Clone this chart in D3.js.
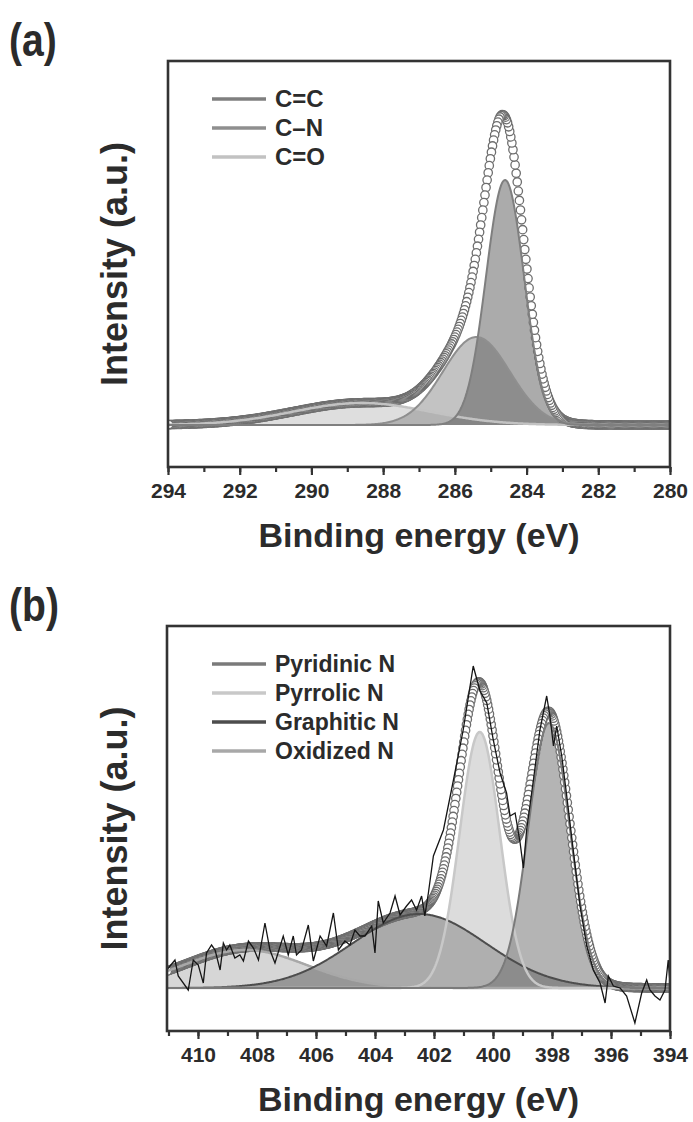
<!DOCTYPE html>
<html>
<head>
<meta charset="utf-8">
<script src="https://cdn.jsdelivr.net/npm/d3@7"></script>
<style>
body { margin: 0; background: #fff; }
svg text { font-family: "Liberation Sans", Arial, sans-serif; font-weight: bold; fill: #2b2b2b; }
</style>
</head>
<body>
<svg id="chart" width="693" height="1122"></svg>
<script>
// ---- (a) C 1s: fitted components (centre eV, FWHM eV, height a.u.)
var c1sNames  = ["C=C", "C\u2013N", "C=O"];
var c1sCenter = [284.6, 285.4, 288.6];
var c1sFwhm   = [1.25, 2.2, 4.5];
var c1sHeight = [245, 88, 22];
var c1sTicks  = [294, 292, 290, 288, 286, 284, 282, 280];

// ---- (b) N 1s: fitted components
var n1sNames  = ["Pyridinic N", "Pyrrolic N", "Graphitic N", "Oxidized N"];
var n1sCenter = [398.1, 400.45, 402.5, 408.4];
var n1sFwhm   = [1.65, 1.6, 5.3, 4.9];
var n1sHeight = [265, 256, 74, 38];
var n1sTicks  = [410, 408, 406, 404, 402, 400, 398, 396, 394];

// raw (noisy) N 1s trace, read point by point
var n1sRawEnergy = [411.06, 410.78, 410.67, 410.33, 410.16, 409.99, 409.82, 409.71, 409.54, 409.42,
  409.25, 409.14, 409.03, 408.92, 408.75, 408.58, 408.46, 408.29, 408.12, 407.95,
  407.73, 407.56, 407.39, 407.11, 406.94, 406.77, 406.66, 406.49, 406.26, 406.09,
  405.86, 405.64, 405.41, 405.24, 405.02, 404.85, 404.68, 404.51, 404.34, 404.11,
  404.0, 403.89, 403.72, 403.49, 403.32, 403.15, 402.93, 402.76, 402.59, 402.42,
  402.31, 402.19, 402.02, 401.68, 401.34, 401.01, 400.67, 400.44, 400.21, 399.99,
  399.76, 399.54, 399.42, 399.25, 399.08, 398.97, 398.86, 398.63, 398.41, 398.18,
  398.07, 397.95, 397.84, 397.67, 397.5, 397.28, 397.05, 396.82, 396.6, 396.37,
  396.2, 396.09, 395.92, 395.69, 395.47, 395.19, 394.96, 394.79, 394.68, 394.51,
  394.34, 394.17, 394.06, 394.0];
var n1sRawCounts = [18, 28, 12, -2, 28, 23, 5, 35, 43, 38,
  18, 45, 38, 43, 30, 33, 27, 47, 40, 28,
  65, 38, 25, 52, 33, 52, 33, 38, 63, 27,
  52, 42, 75, 38, 47, 43, 58, 52, 52, 62,
  35, 87, 65, 75, 92, 73, 82, 88, 78, 92,
  72, 95, 132, 158, 208, 258, 322, 297, 285, 248,
  215, 195, 172, 175, 145, 120, 158, 208, 258, 292,
  272, 242, 262, 232, 192, 138, 82, 42, 18, 5,
  -15, 12, 2, 0, -8, -35, -5, 8, -2, -8,
  -12, -2, 28, 5];

var svg = d3.select("#chart");
var ln2 = Math.log(2);
function peak(e, c, f, h) { return h * Math.exp(-4 * ln2 * (e - c) * (e - c) / (f * f)); }

function drawPanel(p) {
  var g = svg.append("g");
  var x = d3.scaleLinear().domain(p.xDomain).range([p.left, p.right]);
  var y = d3.scaleLinear().domain(p.yDomain).range([p.bottom, p.top]);

  var clipId = "clip" + p.tag;
  svg.append("clipPath").attr("id", clipId).append("rect")
    .attr("x", p.left).attr("y", p.top).attr("width", p.right - p.left).attr("height", p.bottom - p.top);
  var plot = g.append("g").attr("clip-path", "url(#" + clipId + ")");

  var lo = Math.min(p.xDomain[0], p.xDomain[1]), hi = Math.max(p.xDomain[0], p.xDomain[1]);
  var grid = d3.range(lo, hi + 0.0001, 0.03);
  var comps = p.center.map(function(c, i) {
    return grid.map(function(e) { return [e, peak(e, c, p.fwhm[i], p.height[i])]; });
  });
  var env = grid.map(function(e, k) { return [e, d3.sum(comps, function(cp) { return cp[k][1]; })]; });

  var area = d3.area().x(function(d) { return x(d[0]); }).y0(y(0)).y1(function(d) { return y(d[1]); });
  var line = d3.line().x(function(d) { return x(d[0]); }).y(function(d) { return y(d[1]); });

  p.order.forEach(function(i) {
    plot.append("path").datum(comps[i]).attr("d", area)
      .attr("fill", p.fill[i]).attr("fill-opacity", p.fillOpacity[i]);
  });

  plot.append("g").selectAll("circle").data(env).enter().append("circle")
    .attr("cx", function(d) { return x(d[0]); })
    .attr("cy", function(d) { return y(d[1]); })
    .attr("r", 4.2)
    .attr("fill", "#fff").attr("stroke", "#6e6e6e").attr("stroke-width", 1.3);

  p.order.forEach(function(i) {
    plot.append("path").datum(comps[i]).attr("d", line)
      .attr("fill", "none").attr("stroke", p.stroke[i]).attr("stroke-width", p.strokeWidth[i]);
  });

  if (p.rawE) {
    var raw = p.rawE.map(function(e, i) { return [e, p.rawI[i]]; });
    plot.append("path").datum(raw).attr("d", line)
      .attr("fill", "none").attr("stroke", "#151515").attr("stroke-width", 1.3);
  }

  // legend
  p.names.forEach(function(n, i) {
    var ly = p.top + 38 + i * 29;
    g.append("line").attr("x1", 212).attr("x2", 266).attr("y1", ly).attr("y2", ly)
      .attr("stroke", p.stroke[i]).attr("stroke-width", 3.5);
    g.append("text").attr("x", 275).attr("y", ly + 8).attr("font-size", p.legendSize).text(n);
  });

  // axis
  var major = d3.axisBottom(x).tickValues(p.ticks).tickSize(8).tickPadding(8).tickFormat(d3.format("d"));
  var minor = d3.axisBottom(x).tickValues(d3.range(Math.ceil(lo), Math.floor(hi) + 1)).tickSize(5).tickFormat("");
  var gm = g.append("g").attr("transform", "translate(0," + p.bottom + ")").call(minor);
  var ga = g.append("g").attr("transform", "translate(0," + p.bottom + ")").call(major);
  [gm, ga].forEach(function(a) {
    a.select(".domain").remove();
    a.selectAll("line").attr("stroke", "#333").attr("stroke-width", 2.2);
  });
  ga.selectAll("text").attr("font-size", 21).attr("fill", "#2b2b2b")
    .style("font-family", "'Liberation Sans', Arial, sans-serif").style("font-weight", "bold");

  g.append("rect").attr("x", p.left).attr("y", p.top)
    .attr("width", p.right - p.left).attr("height", p.bottom - p.top)
    .attr("fill", "none").attr("stroke", "#333").attr("stroke-width", 2.6);

  g.append("text").attr("x", (p.left + p.right) / 2).attr("y", p.bottom + 80)
    .attr("text-anchor", "middle").attr("font-size", 34).text("Binding energy (eV)");
  g.append("text").attr("transform", "translate(127," + ((p.top + p.bottom) / 2) + ") rotate(-90)")
    .attr("text-anchor", "middle").attr("font-size", 36).text("Intensity (a.u.)");
  g.append("text").attr("transform", "translate(9," + (p.top - 5) + ") scale(0.85,1)")
    .attr("font-size", 46).text(p.label);
}

drawPanel({
  tag: "a", label: "(a)", legendSize: 24,
  left: 168, right: 670, top: 61, bottom: 467,
  xDomain: [294, 280], yDomain: [-42, 364],
  center: c1sCenter, fwhm: c1sFwhm, height: c1sHeight, names: c1sNames, ticks: c1sTicks,
  order: [2, 1, 0],
  fill: ["#585858", "#878787", "#b6b6b6"],
  fillOpacity: [0.5, 0.5, 0.45],
  stroke: ["#7f7f7f", "#8f8f8f", "#c2c2c2"],
  strokeWidth: [2, 2, 2.5]
});

drawPanel({
  tag: "b", label: "(b)", legendSize: 23,
  left: 167, right: 670, top: 626, bottom: 1031,
  xDomain: [411.05, 394], yDomain: [-43, 362],
  center: n1sCenter, fwhm: n1sFwhm, height: n1sHeight, names: n1sNames, ticks: n1sTicks,
  order: [3, 2, 1, 0],
  fill: ["#6a6a6a", "#b6b6b6", "#646464", "#a4a4a4"],
  fillOpacity: [0.5, 0.48, 0.55, 0.45],
  stroke: ["#7a7a7a", "#c8c8c8", "#4d4d4d", "#a8a8a8"],
  strokeWidth: [2, 2.5, 2, 2.5],
  rawE: n1sRawEnergy, rawI: n1sRawCounts
});
</script>
</body>
</html>
